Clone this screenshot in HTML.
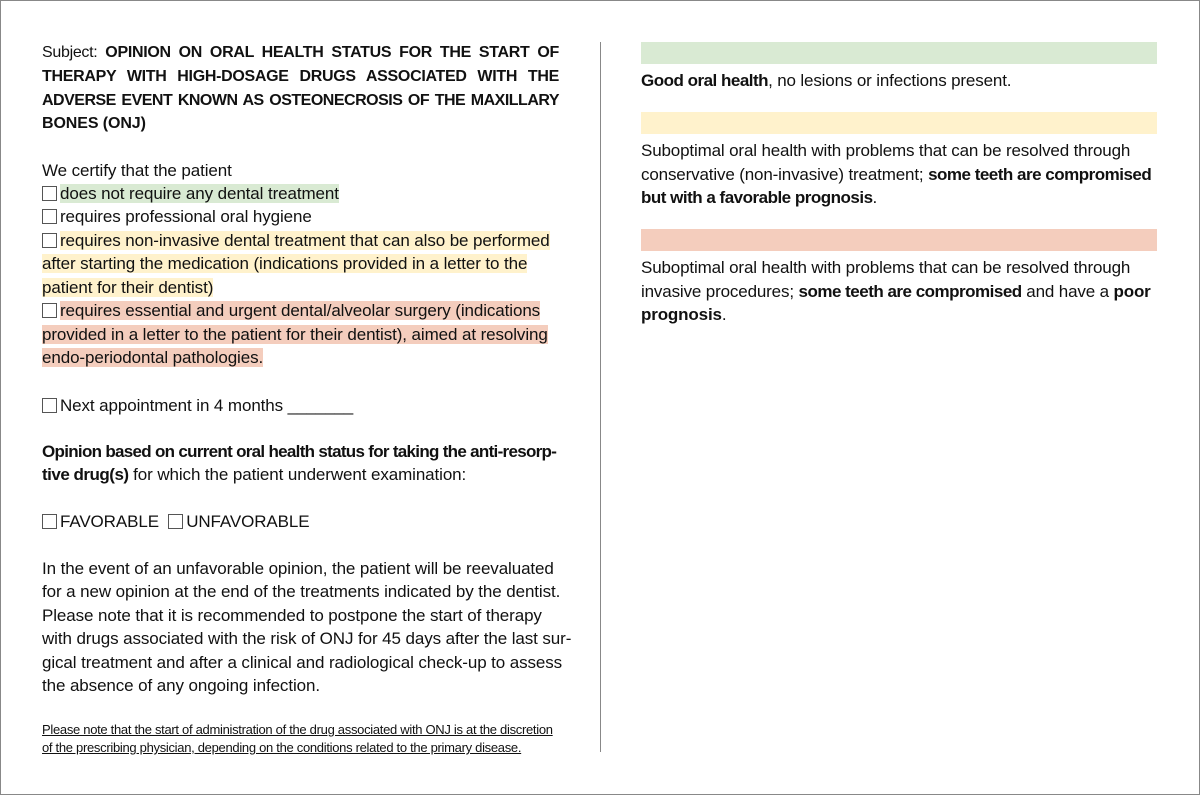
<!DOCTYPE html>
<html><head><meta charset="utf-8"><style>
body{margin:0;width:1200px;height:795px;background:#fff;position:relative;overflow:hidden;font-family:"Liberation Sans",sans-serif;color:#111;}
.frame{position:absolute;left:0;top:0;width:1198px;height:793px;border:1px solid #888;}
.l{position:absolute;left:42px;height:22px;line-height:22px;font-size:17px;letter-spacing:-0.1px;white-space:nowrap;}
.r{position:absolute;left:641px;height:22px;line-height:22px;font-size:17px;letter-spacing:-0.15px;white-space:nowrap;}
.j{width:517px;font-size:16px;text-align:justify;text-align-last:justify;font-weight:bold;letter-spacing:-0.3px;}
.cb{display:inline-block;width:13px;height:13px;border:1px solid #555;vertical-align:-2px;margin-right:3px;background:#fff;}
.g{background:#d9ead3}.y{background:#fff2cc}.p{background:#f4cdbd}
.bar{position:absolute;left:641px;width:516px;height:22px;}
.fn{position:absolute;left:42px;font-size:13px;text-decoration:underline;white-space:nowrap;letter-spacing:-0.3px;}
</style></head><body>
<div class="frame"></div>
<div style="position:absolute;left:600px;top:42px;width:1px;height:710px;background:#888"></div>

<div class="l j" style="top:42px"><span style="font-weight:normal">Subject:</span> OPINION ON ORAL HEALTH STATUS FOR THE START OF</div>
<div class="l j" style="top:66px">THERAPY WITH HIGH-DOSAGE DRUGS ASSOCIATED WITH THE</div>
<div class="l j" style="top:90px;letter-spacing:-0.5px">ADVERSE EVENT KNOWN AS OSTEONECROSIS OF THE MAXILLARY</div>
<div class="l" style="top:113px;font-weight:bold;font-size:16px">BONES (ONJ)</div>

<div class="l" style="top:160px">We certify that the patient</div>
<div class="l" style="top:183px"><span class="cb"></span><span class="g">does not require any dental treatment</span></div>
<div class="l" style="top:206px"><span class="cb"></span>requires professional oral hygiene</div>
<div class="l" style="top:230px"><span class="cb"></span><span class="y">requires non-invasive dental treatment that can also be performed </span></div>
<div class="l" style="top:253px"><span class="y">after starting the medication (indications provided in a letter to the </span></div>
<div class="l" style="top:277px"><span class="y">patient for their dentist)</span></div>
<div class="l" style="top:300px"><span class="cb"></span><span class="p">requires essential and urgent dental/alveolar surgery (indications </span></div>
<div class="l" style="top:324px"><span class="p">provided in a letter to the patient for their dentist), aimed at resolving</span></div>
<div class="l" style="top:347px"><span class="p">endo-periodontal pathologies.</span></div>

<div class="l" style="top:395px"><span class="cb"></span>Next appointment in 4 months _______</div>

<div class="l" style="top:441px;font-weight:bold;letter-spacing:-0.7px">Opinion based on current oral health status for taking the anti-resorp-</div>
<div class="l" style="top:464px"><b style="letter-spacing:-0.5px">tive drug(s)</b> for which the patient underwent examination:</div>

<div class="l" style="top:511px"><span class="cb"></span>FAVORABLE &nbsp;<span class="cb"></span>UNFAVORABLE</div>

<div class="l" style="top:558px">In the event of an unfavorable opinion, the patient will be reevaluated</div>
<div class="l" style="top:581px">for a new opinion at the end of the treatments indicated by the dentist.</div>
<div class="l" style="top:605px">Please note that it is recommended to postpone the start of therapy</div>
<div class="l" style="top:628px">with drugs associated with the risk of ONJ for 45 days after the last sur-</div>
<div class="l" style="top:652px">gical treatment and after a clinical and radiological check-up to assess</div>
<div class="l" style="top:675px">the absence of any ongoing infection.</div>

<div class="fn" style="top:722px">Please note that the start of administration of the drug associated with ONJ is at the discretion</div>
<div class="fn" style="top:740px">of the prescribing physician, depending on the conditions related to the primary disease.</div>

<div class="bar g" style="top:42px"></div>
<div class="r" style="top:70px"><b style="letter-spacing:-0.5px">Good oral health</b>, no lesions or infections present.</div>
<div class="bar y" style="top:112px"></div>
<div class="r" style="top:140px">Suboptimal oral health with problems that can be resolved through</div>
<div class="r" style="top:164px">conservative (non-invasive) treatment; <b style="letter-spacing:-0.5px">some teeth are compromised</b></div>
<div class="r" style="top:187px"><b style="letter-spacing:-0.5px">but with a favorable prognosis</b>.</div>
<div class="bar p" style="top:229px"></div>
<div class="r" style="top:257px">Suboptimal oral health with problems that can be resolved through</div>
<div class="r" style="top:281px">invasive procedures; <b style="letter-spacing:-0.5px">some teeth are compromised</b> and have a <b>poor</b></div>
<div class="r" style="top:304px"><b>prognosis</b>.</div>
</body></html>
